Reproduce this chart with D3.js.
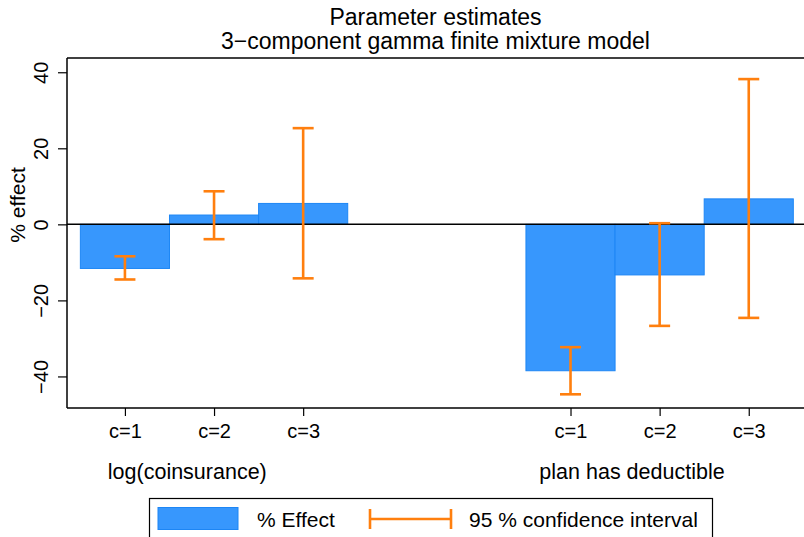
<!DOCTYPE html>
<html>
<head>
<meta charset="utf-8">
<script src="https://cdn.jsdelivr.net/npm/d3@7"></script>
<style>
  body { margin: 0; background: #fff; }
  text { font-family: "Liberation Sans", Arial, sans-serif; fill: #000; }
</style>
</head>
<body>
<div id="chartHolder"></div>
<script>
// chart values
const groups = ["log(coinsurance)", "plan has deductible"];
const components = ["c=1", "c=2", "c=3"];
const effect = [-11.6, 2.45, 5.5, -38.5, -13.3, 6.7];
const ciLow = [-14.5, -3.9, -14.2, -44.7, -26.7, -24.6];
const ciHigh = [-8.4, 8.7, 25.3, -32.3, 0.3, 38.2];
const yTicks = [-40, -20, 0, 20, 40];

const width = 804;
const height = 537;
const plotLeft = 67, plotRight = 804, plotTop = 58, plotBottom = 408;

const blue = "#3797fd";
const blueEdge = "#1d86f5";
const orange = "#ff7f0e";

const svg = d3.select("#chartHolder")
  .append("svg")
  .attr("width", width)
  .attr("height", height);

// slot positions: group 1 at 1..3, group 2 at 6..8
const slots = [1, 2, 3, 6, 7, 8];
const groupPos = [1.7, 6.69];

const xScale = d3.scaleLinear()
  .domain([0.35, 8.62])
  .range([plotLeft, plotRight]);
const yScale = d3.scaleLinear()
  .domain([-48.3, 43.75])
  .range([plotBottom, plotTop]);

const barW = xScale(1) - xScale(0);

// bars
svg.selectAll("rect.bar")
  .data(effect)
  .enter()
  .append("rect")
  .attr("class", "bar")
  .attr("x", (d, i) => xScale(slots[i] - 0.5))
  .attr("y", d => yScale(Math.max(0, d)))
  .attr("width", barW)
  .attr("height", d => Math.abs(yScale(d) - yScale(0)))
  .style("fill", blue)
  .style("stroke", blueEdge)
  .style("stroke-width", 1);

// zero line
svg.append("line")
  .attr("x1", plotLeft).attr("x2", plotRight)
  .attr("y1", yScale(0)).attr("y2", yScale(0))
  .style("stroke", "#000")
  .style("stroke-width", 1.5);

// error bars
const ci = svg.selectAll("g.ci")
  .data(effect)
  .enter()
  .append("g")
  .attr("class", "ci")
  .style("stroke", orange)
  .style("stroke-width", 2.6);
ci.append("line")
  .attr("x1", (d, i) => xScale(slots[i])).attr("x2", (d, i) => xScale(slots[i]))
  .attr("y1", (d, i) => yScale(ciLow[i])).attr("y2", (d, i) => yScale(ciHigh[i]));
ci.append("line")
  .attr("x1", (d, i) => xScale(slots[i]) - 10.5).attr("x2", (d, i) => xScale(slots[i]) + 10.5)
  .attr("y1", (d, i) => yScale(ciLow[i])).attr("y2", (d, i) => yScale(ciLow[i]));
ci.append("line")
  .attr("x1", (d, i) => xScale(slots[i]) - 10.5).attr("x2", (d, i) => xScale(slots[i]) + 10.5)
  .attr("y1", (d, i) => yScale(ciHigh[i])).attr("y2", (d, i) => yScale(ciHigh[i]));

// axes
const yAxis = d3.axisLeft(yScale)
  .tickValues(yTicks)
  .tickSize(9)
  .tickFormat(d => d < 0 ? "\u2212" + Math.abs(d) : d);
const gy = svg.append("g")
  .attr("transform", `translate(${plotLeft},0)`)
  .call(yAxis);
gy.select(".domain").remove();
gy.append("line")
  .attr("x1", 0).attr("x2", 0).attr("y1", plotTop).attr("y2", plotBottom)
  .style("stroke", "#000").style("stroke-width", 1.5);
gy.selectAll(".tick line").style("stroke", "#000").style("stroke-width", 1.2);
gy.selectAll(".tick text")
  .attr("x", null).attr("dy", null)
  .attr("transform", `translate(${48 - plotLeft},0) rotate(-90)`)
  .attr("text-anchor", "middle")
  .style("font-size", "20px")
  .style("font-family", "'Liberation Sans', Arial, sans-serif");

const xAxis = d3.axisBottom(xScale)
  .tickValues(slots)
  .tickSize(8)
  .tickFormat((d, i) => components[i % 3]);
const gx = svg.append("g")
  .attr("transform", `translate(0,${plotBottom})`)
  .call(xAxis);
gx.select(".domain").remove();
gx.append("line")
  .attr("x1", plotLeft).attr("x2", plotRight).attr("y1", 0).attr("y2", 0)
  .style("stroke", "#000").style("stroke-width", 1.5);
gx.selectAll(".tick line").style("stroke", "#000").style("stroke-width", 1.2);
gx.selectAll(".tick text")
  .attr("y", 438 - plotBottom).attr("dy", null)
  .style("font-size", "20px")
  .style("font-family", "'Liberation Sans', Arial, sans-serif");

// top frame line
svg.append("line")
  .attr("x1", plotLeft).attr("x2", plotRight).attr("y1", plotTop).attr("y2", plotTop)
  .style("stroke", "#000").style("stroke-width", 1.5);

// group labels
svg.selectAll("text.group")
  .data(groups)
  .enter()
  .append("text")
  .attr("class", "group")
  .attr("x", (d, i) => xScale(groupPos[i]))
  .attr("y", 479)
  .attr("text-anchor", "middle")
  .style("font-size", "21.5px")
  .text(d => d);

// titles
svg.append("text")
  .attr("x", (plotLeft + plotRight) / 2).attr("y", 25)
  .attr("text-anchor", "middle")
  .style("font-size", "23px")
  .text("Parameter estimates");
svg.append("text")
  .attr("x", (plotLeft + plotRight) / 2).attr("y", 49)
  .attr("text-anchor", "middle")
  .style("font-size", "23px")
  .text("3\u2212component gamma finite mixture model");

// y label
svg.append("text")
  .attr("transform", `translate(25,205) rotate(-90)`)
  .attr("text-anchor", "middle")
  .style("font-size", "21px")
  .text("% effect");

// legend
const lg = svg.append("g");
lg.append("rect")
  .attr("x", 149.5).attr("y", 498.5)
  .attr("width", 563).attr("height", 60)
  .style("fill", "#fff").style("stroke", "#000").style("stroke-width", 1.2);
lg.append("rect")
  .attr("x", 158).attr("y", 507.5)
  .attr("width", 80).attr("height", 22)
  .style("fill", blue).style("stroke", blueEdge).style("stroke-width", 1);
lg.append("text")
  .attr("x", 257).attr("y", 526.5)
  .style("font-size", "21px")
  .text("% Effect");
const lgCi = lg.append("g").style("stroke", orange).style("stroke-width", 2.6);
lgCi.append("line").attr("x1", 370).attr("x2", 451).attr("y1", 519).attr("y2", 519);
lgCi.append("line").attr("x1", 370).attr("x2", 370).attr("y1", 509).attr("y2", 529);
lgCi.append("line").attr("x1", 451).attr("x2", 451).attr("y1", 509).attr("y2", 529);
lg.append("text")
  .attr("x", 469).attr("y", 526.5)
  .style("font-size", "21px")
  .text("95 % confidence interval");
</script>
</body>
</html>
